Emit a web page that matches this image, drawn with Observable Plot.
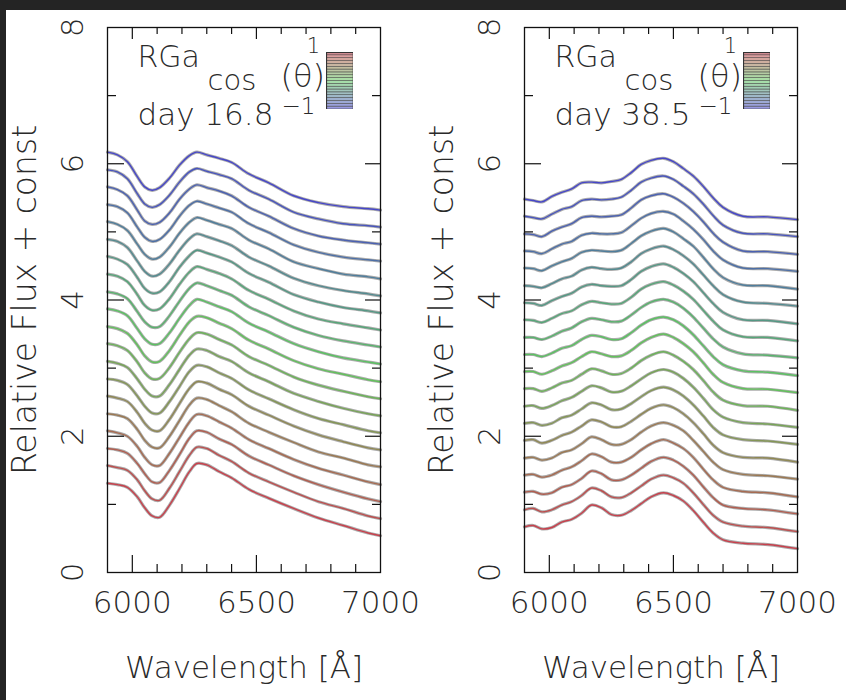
<!DOCTYPE html>
<html><head><meta charset="utf-8">
<script src="https://cdn.jsdelivr.net/npm/d3@7"></script>
<script src="https://cdn.jsdelivr.net/npm/@observablehq/plot@0.6"></script>
<style>
html,body{margin:0;padding:0;}
body{background:#242424;width:846px;height:700px;overflow:hidden;position:relative;}
#page{position:absolute;left:6px;top:10px;width:840px;height:690px;background:#fff;}
.abs{position:absolute;}
</style></head><body>
<div id="page"></div>
<script>
// ---- data ----
const wavelengthsLeft = [5900, 5940, 5980, 6020, 6050, 6080, 6110, 6150, 6190, 6230, 6260, 6300, 6350, 6400, 6470, 6550, 6650, 6750, 6850, 6950, 7000];
const fluxLeft = [
 [1.31,1.29,1.25,1.11,0.95,0.83,0.81,0.99,1.23,1.48,1.60,1.58,1.48,1.39,1.22,1.09,0.94,0.80,0.69,0.58,0.54],
 [1.32,1.29,1.25,1.11,0.95,0.83,0.81,0.99,1.23,1.47,1.59,1.57,1.47,1.38,1.21,1.08,0.93,0.79,0.69,0.58,0.54],
 [1.32,1.30,1.25,1.10,0.95,0.83,0.82,1.00,1.23,1.47,1.58,1.56,1.46,1.38,1.21,1.08,0.92,0.79,0.68,0.58,0.54],
 [1.33,1.30,1.25,1.10,0.94,0.83,0.82,1.00,1.23,1.46,1.57,1.55,1.46,1.37,1.20,1.07,0.91,0.78,0.68,0.58,0.54],
 [1.33,1.31,1.26,1.10,0.94,0.84,0.83,1.00,1.23,1.46,1.56,1.54,1.45,1.36,1.19,1.06,0.91,0.77,0.68,0.58,0.55],
 [1.34,1.31,1.26,1.10,0.94,0.84,0.83,1.00,1.23,1.45,1.55,1.53,1.44,1.36,1.19,1.06,0.90,0.77,0.67,0.58,0.55],
 [1.34,1.32,1.26,1.09,0.94,0.84,0.84,1.01,1.23,1.45,1.54,1.52,1.43,1.35,1.18,1.05,0.89,0.76,0.67,0.58,0.55],
 [1.35,1.32,1.26,1.09,0.94,0.84,0.84,1.01,1.23,1.44,1.53,1.51,1.42,1.35,1.18,1.05,0.88,0.76,0.66,0.58,0.55],
 [1.36,1.33,1.26,1.09,0.93,0.84,0.85,1.01,1.23,1.43,1.52,1.50,1.42,1.34,1.17,1.04,0.87,0.75,0.66,0.58,0.55],
 [1.36,1.33,1.26,1.09,0.93,0.84,0.85,1.01,1.23,1.43,1.51,1.49,1.41,1.33,1.16,1.03,0.86,0.74,0.66,0.58,0.55],
 [1.37,1.34,1.27,1.08,0.93,0.85,0.86,1.02,1.23,1.42,1.51,1.47,1.40,1.33,1.16,1.03,0.86,0.74,0.65,0.59,0.56],
 [1.37,1.34,1.27,1.08,0.93,0.85,0.86,1.02,1.23,1.42,1.50,1.46,1.39,1.32,1.15,1.02,0.85,0.73,0.65,0.59,0.56],
 [1.38,1.35,1.27,1.08,0.92,0.85,0.87,1.02,1.23,1.41,1.49,1.45,1.39,1.31,1.14,1.01,0.84,0.72,0.65,0.59,0.56],
 [1.39,1.35,1.27,1.08,0.92,0.85,0.87,1.02,1.23,1.40,1.48,1.44,1.38,1.31,1.14,1.01,0.83,0.72,0.64,0.59,0.56],
 [1.39,1.36,1.27,1.07,0.92,0.85,0.88,1.03,1.23,1.40,1.47,1.43,1.37,1.30,1.13,1.00,0.82,0.71,0.64,0.59,0.56],
 [1.40,1.36,1.27,1.07,0.92,0.85,0.88,1.03,1.23,1.39,1.46,1.42,1.36,1.30,1.13,1.00,0.81,0.71,0.63,0.59,0.56],
 [1.40,1.37,1.28,1.07,0.92,0.86,0.89,1.03,1.23,1.39,1.45,1.41,1.35,1.29,1.12,0.99,0.81,0.70,0.63,0.59,0.57],
 [1.41,1.37,1.28,1.07,0.91,0.86,0.89,1.03,1.23,1.38,1.44,1.40,1.35,1.28,1.11,0.98,0.80,0.69,0.63,0.59,0.57],
 [1.41,1.38,1.28,1.06,0.91,0.86,0.90,1.04,1.23,1.38,1.43,1.39,1.34,1.28,1.11,0.98,0.79,0.69,0.62,0.59,0.57],
 [1.42,1.38,1.28,1.06,0.91,0.86,0.90,1.04,1.23,1.37,1.42,1.38,1.33,1.27,1.10,0.97,0.78,0.68,0.62,0.59,0.57]
];
const wavelengthsRight = [5900, 5935, 5970, 6010, 6050, 6090, 6130, 6170, 6210, 6250, 6290, 6330, 6370, 6410, 6460, 6500, 6540, 6580, 6620, 6660, 6700, 6780, 6880, 7000];
const fluxRight = [
 [.67,.69,.64,.66,.74,.78,.87,.99,.95,.85,.84,.91,1.01,1.11,1.17,1.13,1.05,.91,.74,.58,.48,.43,.41,.35],
 [.67,.69,.64,.67,.74,.79,.88,.99,.95,.86,.85,.92,1.02,1.12,1.18,1.14,1.06,.92,.75,.59,.49,.43,.41,.35],
 [.68,.69,.65,.67,.75,.79,.88,.99,.95,.86,.86,.93,1.03,1.13,1.19,1.15,1.06,.93,.76,.60,.49,.44,.42,.36],
 [.68,.69,.65,.68,.75,.80,.89,.99,.95,.87,.87,.94,1.05,1.14,1.20,1.15,1.07,.94,.77,.61,.50,.44,.42,.36],
 [.68,.69,.65,.68,.76,.80,.89,.99,.95,.88,.88,.95,1.06,1.15,1.20,1.16,1.08,.94,.78,.62,.51,.44,.42,.37],
 [.69,.70,.65,.69,.76,.81,.90,.99,.96,.89,.89,.97,1.07,1.16,1.21,1.17,1.08,.95,.79,.62,.51,.44,.43,.37],
 [.69,.70,.66,.69,.77,.81,.90,.99,.96,.89,.90,.98,1.08,1.17,1.22,1.18,1.09,.96,.80,.63,.52,.45,.43,.38],
 [.69,.70,.66,.70,.77,.82,.91,.99,.96,.90,.91,.99,1.09,1.18,1.23,1.19,1.10,.97,.81,.64,.53,.45,.43,.38],
 [.70,.70,.66,.71,.78,.82,.91,.99,.96,.91,.92,1.00,1.11,1.19,1.24,1.19,1.10,.98,.82,.65,.53,.45,.44,.38],
 [.70,.70,.66,.71,.78,.83,.92,.99,.96,.92,.93,1.01,1.12,1.20,1.25,1.20,1.11,.99,.83,.66,.54,.45,.44,.39],
 [.70,.70,.67,.72,.79,.83,.92,.98,.96,.92,.93,1.02,1.13,1.21,1.25,1.21,1.12,.99,.83,.67,.55,.46,.44,.39],
 [.70,.70,.67,.72,.79,.84,.93,.98,.96,.93,.94,1.03,1.14,1.22,1.26,1.22,1.13,1.00,.84,.68,.56,.46,.44,.40],
 [.71,.70,.67,.73,.80,.84,.93,.98,.96,.94,.95,1.04,1.16,1.23,1.27,1.22,1.13,1.01,.85,.69,.56,.46,.45,.40],
 [.71,.70,.67,.74,.80,.85,.94,.98,.96,.95,.96,1.05,1.17,1.24,1.28,1.23,1.14,1.02,.86,.70,.57,.46,.45,.40],
 [.71,.70,.68,.74,.81,.85,.94,.98,.96,.95,.97,1.06,1.18,1.25,1.29,1.24,1.15,1.03,.87,.71,.58,.47,.45,.41],
 [.72,.71,.68,.75,.81,.86,.95,.98,.97,.96,.98,1.08,1.19,1.26,1.30,1.25,1.15,1.04,.88,.71,.58,.47,.46,.41],
 [.72,.71,.68,.75,.82,.86,.95,.98,.97,.97,.99,1.09,1.20,1.27,1.30,1.26,1.16,1.04,.89,.72,.59,.47,.46,.42],
 [.72,.71,.68,.76,.82,.87,.96,.98,.97,.98,1.00,1.10,1.22,1.28,1.31,1.26,1.17,1.05,.90,.73,.60,.47,.46,.42],
 [.73,.71,.69,.76,.83,.87,.96,.98,.97,.98,1.01,1.11,1.23,1.29,1.32,1.27,1.17,1.06,.91,.74,.60,.48,.47,.43],
 [.73,.71,.69,.77,.83,.88,.97,.98,.97,.99,1.02,1.12,1.24,1.30,1.33,1.28,1.18,1.07,.92,.75,.61,.48,.47,.43]
];
// constant added to each spectrum (bottom to top)
const offsets = [0, 0.25, 0.5, 0.75, 1, 1.25, 1.5, 1.75, 2, 2.25, 2.5, 2.75, 3, 3.25, 3.5, 3.75, 4, 4.25, 4.5, 4.75];
const panelModels = ["RGa", "RGa"];
const panelDays = ["day 16.8", "day 38.5"];
const xTickLabels = [6000, 6500, 7000];
const xMajorTicks = [6000, 6500];
const xMinorTicks = [6100, 6200, 6300, 6400, 6600, 6700, 6800, 6900];
const yTickLabels = [0, 2, 4, 6, 8];
const yMajorTicks = [2, 4, 6];
const yMinorTicks = [1, 3, 5, 7];
const cosEdges = [-1, -0.9, -0.8, -0.7, -0.6, -0.5, -0.4, -0.3, -0.2, -0.1, 0, 0.1, 0.2, 0.3, 0.4, 0.5, 0.6, 0.7, 0.8, 0.9, 1];
const cosLabels = ["1", "−1"];
const xTitle = "Wavelength [Å]";
const yTitle = "Relative Flux + const";

// ---- styling ----
const FONT = "'DejaVu Sans', sans-serif";
const colorScale = {type: "linear", domain: [0, 9.5, 19], range: ["#c8404c", "#5cc85c", "#4646c8"], interpolate: "rgb"};
const W = 429, H = 700, ML = 107, MT = 27, MB = 128;
const FW = 273, FH = 545;
const INK = "#2a2a2a";

function table(wl, rows) {
  return rows.flatMap((r, i) => r.map((v, j) => ({wl: wl[j], flux: v + offsets[i], line: i})));
}

function panel(wl, rows, k, left) {
  const data = table(wl, rows);
  const mr = W - ML - FW;
  const txt = (s, o) => Plot.text([s], {frameAnchor: "top-left", lineAnchor: "middle", fill: INK, ...o});
  const p = Plot.plot({
    width: W, height: H, marginLeft: ML, marginRight: mr, marginTop: MT, marginBottom: MB,
    x: {domain: [5900, 7000], axis: null},
    y: {domain: [0, 8], axis: null},
    color: colorScale,
    style: {fontFamily: FONT, fontWeight: 200, background: "transparent", color: INK},
    marks: [
      Plot.line(data, {x: "wl", y: "flux", z: "line", stroke: "#acacac", strokeWidth: 3.2, curve: "catmull-rom"}),
      Plot.line(data, {x: "wl", y: "flux", z: "line", stroke: "line", strokeWidth: 1.4, curve: "catmull-rom"}),
      Plot.frame({stroke: "#111", strokeWidth: 1.3}),
      // bottom ticks
      Plot.tickX(xMajorTicks, {x: d => d, insetTop: FH - 17, stroke: "#111", strokeWidth: 1.2}),
      Plot.tickX(xMinorTicks, {x: d => d, insetTop: FH - 8, stroke: "#111", strokeWidth: 1.2}),
      // top ticks
      Plot.tickX(xMajorTicks, {x: d => d, insetBottom: FH - 12, stroke: "#111", strokeWidth: 1.2}),
      Plot.tickX(xMinorTicks, {x: d => d, insetBottom: FH - 7, stroke: "#111", strokeWidth: 1.2}),
      // left ticks
      Plot.tickY(yMajorTicks, {y: d => d, insetRight: FW - 17, stroke: "#111", strokeWidth: 1.2}),
      Plot.tickY(yMinorTicks, {y: d => d, insetRight: FW - 9, stroke: "#111", strokeWidth: 1.2}),
      // right ticks
      Plot.tickY(yMajorTicks, {y: d => d, insetLeft: FW - 15, stroke: "#111", strokeWidth: 1.2}),
      Plot.tickY(yMinorTicks, {y: d => d, insetLeft: FW - 8, stroke: "#111", strokeWidth: 1.2}),
      // tick labels
      Plot.text(xTickLabels, {x: d => d, text: d => String(d), frameAnchor: "bottom", dy: 31, lineAnchor: "middle", textAnchor: "middle", fontSize: 31, fill: INK}),
      Plot.text(yTickLabels, {y: d => d, text: d => String(d), frameAnchor: "left", dx: -34, rotate: -90, lineAnchor: "middle", textAnchor: "middle", fontSize: 31, fill: INK}),
      // titles
      Plot.text([xTitle], {frameAnchor: "bottom", dy: 96, lineAnchor: "middle", textAnchor: "middle", fontSize: 31, fill: INK}),
      Plot.text([yTitle], {frameAnchor: "left", dx: -82, rotate: -90, lineAnchor: "middle", textAnchor: "middle", fontSize: 33, fill: INK}),
      // legend text
      txt(panelModels[k], {dx: 30, dy: 30, textAnchor: "start", fontSize: 30}),
      txt(panelDays[k], {dx: 30, dy: 88, textAnchor: "start", fontSize: 31}),
      txt("cos", {dx: 100, dy: 53, textAnchor: "start", fontSize: 29}),
      txt("(θ)", {dx: 173, dy: 49, textAnchor: "start", fontSize: 32}),
      txt(cosLabels[0], {dx: 206, dy: 19, textAnchor: "middle", fontSize: 21}),
      txt(cosLabels[1], {dx: 191, dy: 79, textAnchor: "middle", fontSize: 23})
    ]
  });
  const wrap = document.createElement("div");
  wrap.className = "abs";
  wrap.style.left = left + "px";
  wrap.style.top = "0px";
  wrap.appendChild(p);
  document.body.appendChild(wrap);

  // colour bar legend (cos theta)
  const stripes = cosEdges.slice(0, -1).map((lo, s) => ({lo, hi: cosEdges[s + 1], line: 19 - s}));
  const cb = Plot.plot({
    width: 27, height: 57, margin: 0,
    x: {domain: [0, 1], axis: null},
    y: {domain: [-1, 1], axis: null},
    color: colorScale,
    style: {background: "transparent"},
    marks: [
      Plot.rect(stripes, {x1: 0, x2: 1, y1: "lo", y2: "hi", fill: "line", fillOpacity: 0.55, stroke: "#555", strokeWidth: 0.5}),
      Plot.frame({stroke: "#333", strokeWidth: 1.2})
    ]
  });
  const cw = document.createElement("div");
  cw.className = "abs";
  cw.style.left = (left + ML + 219) + "px";
  cw.style.top = (MT + 25) + "px";
  cw.appendChild(cb);
  document.body.appendChild(cw);
}

panel(wavelengthsLeft, fluxLeft, 0, 0);
panel(wavelengthsRight, fluxRight, 1, 417);
</script>
</body></html>
